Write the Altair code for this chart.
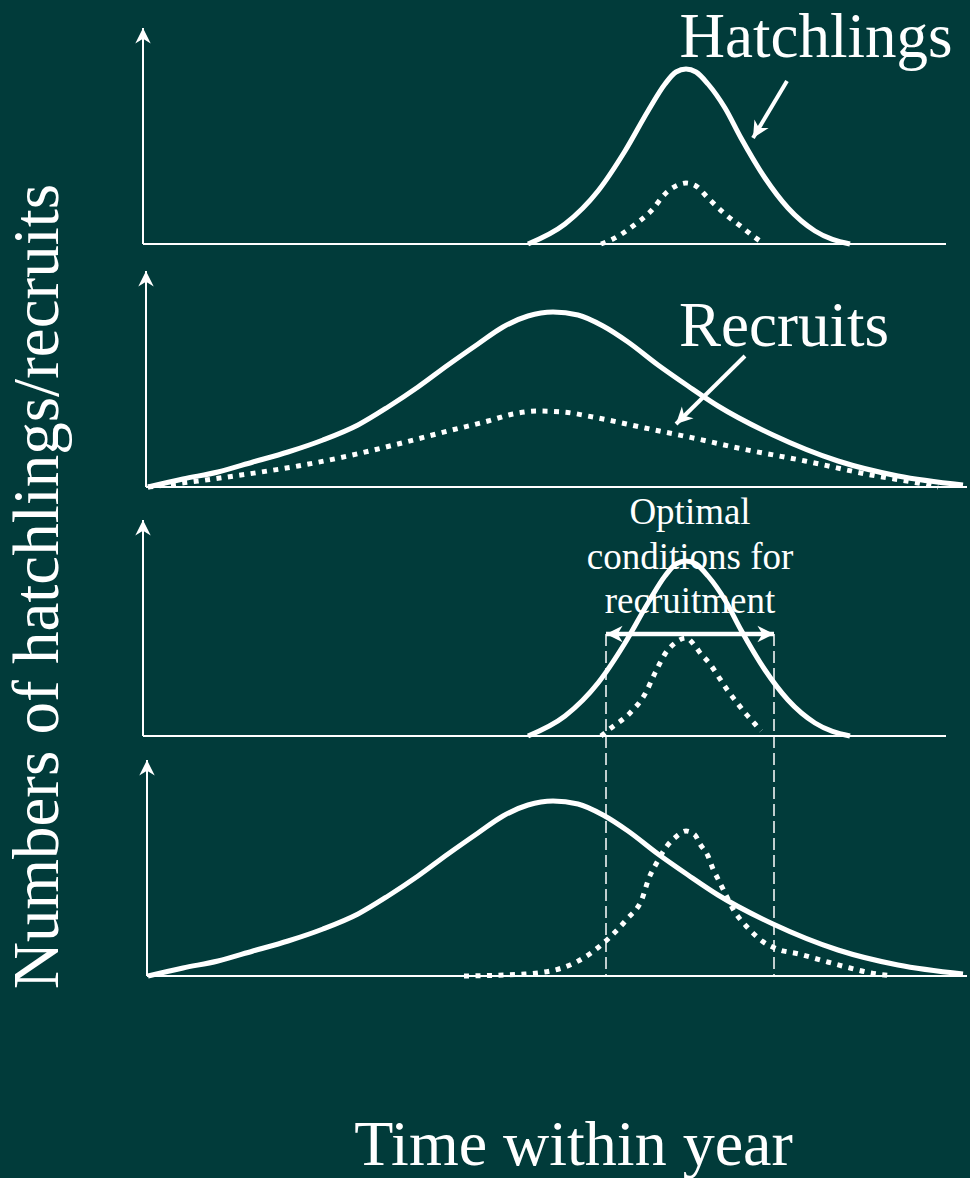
import altair as alt
import pandas as pd

BG = "#013b3a"
FG = "#ffffff"
SERIF = "Liberation Serif"

T_MAX = 826        # full span of the time axis (arbitrary units within the year)
AXIS_TOP = 216     # height reached by the arrowed vertical axes

# Narrow hatching season (panels 1 and 3): time, numbers
narrow_t = [385, 422, 455, 482, 505, 522, 533, 543, 553, 565, 582, 598, 622, 645, 672, 707]
narrow_n = [0, 20, 53, 93, 133, 160, 172, 175, 172, 160, 136, 106, 66, 36, 13, 0]

# Extended hatching season (panels 2 and 4)
broad_t = [5, 40, 75, 110, 145, 180, 215, 245, 275, 305, 335, 360, 385, 410, 435,
           460, 485, 515, 545, 575, 630, 695, 755, 820]
broad_n = [0, 8, 15, 25, 35, 47, 62, 80, 100, 122, 143, 160, 171, 175, 172,
           161, 145, 122, 101, 81, 52, 26, 11, 2]

# Recruits in each scenario
rec1_t = [458, 470, 490, 508, 523, 533, 543, 553, 565, 582, 600, 610, 620]
rec1_n = [0, 5, 18, 33, 51, 58, 61, 58, 46, 30, 16, 8, 1]

rec2_t = [5, 55, 105, 155, 205, 255, 305, 345, 370, 395, 420, 450, 502, 555, 595, 662, 728, 775, 795]
rec2_n = [0, 6, 13, 21, 31, 43, 56, 66, 73, 76, 75, 70, 59, 48, 39, 26, 12, 4, 0]

rec3_t = [458, 468, 487, 502, 512, 522, 532, 543, 552, 558, 567, 575, 585, 595, 603, 612, 618]
rec3_n = [0, 8, 23, 42, 63, 82, 93, 98, 90, 82, 72, 60, 45, 32, 22, 12, 5]

rec4_t = [321, 382, 419, 448, 466, 484, 499, 506, 512, 524, 534, 543, 552, 557, 565,
          570, 575, 581, 590, 605, 619, 634, 656, 681, 707, 728, 750]
rec4_n = [0, 2, 8, 23, 38, 57, 77, 98, 110, 130, 140, 145, 141, 132, 120,
          107, 97, 85, 67, 48, 35, 27, 22, 15, 8, 3, 0]

# Annotation anchors (time, numbers) in their panel's units
hatch_label = (673, 187)
hatch_arrow = (644, 163, 610, 106, 211)
recruit_label = (641, 141)
recruit_arrow = (602, 131, 533, 63, 225)
window_t = [463, 631]     # optimal conditions for recruitment
window_n = 102
window_floor = -240       # dashed limits run down to the last panel's baseline

HEIGHTS = [243, 243, 249, 240]
AXIS_X = [0, 3, 0, 4]
AXIS_END = [803, 824, 803, 824]

STEALTH = "M0,0 L0.5,1 L0,0.7 L-0.5,1 Z"


def heads(X, Y, df, size):
    return alt.Chart(df).mark_point(
        shape=STEALTH, filled=True, size=size, color=FG, opacity=1, strokeWidth=0
    ).encode(x=X, y=Y, angle=alt.Angle("ang:Q", scale=None))


def label(X, Y, t, n, text, size, **kw):
    df = pd.DataFrame({"t": [t], "n": [n], "label": [text]})
    return alt.Chart(df).mark_text(
        font=SERIF, fontSize=size, color=FG, align="center", baseline="alphabetic", **kw
    ).encode(x=X, y=Y, text="label:N")


def pointer(X, Y, spec, width=4, size=1100):
    t0, n0, t1, n1, ang = spec
    shaft = alt.Chart(pd.DataFrame({"t": [t0], "n": [n0], "t2": [t1], "n2": [n1]})).mark_rule(
        color=FG, strokeWidth=width
    ).encode(x=X, x2="t2:Q", y=Y, y2="n2:Q")
    head = heads(X, Y, pd.DataFrame({"t": [t1], "n": [n1], "ang": [ang]}), size)
    return [shaft, head]


def panel(i, solid, dotted, extras=None, x_axis=None, y_axis=None):
    h = HEIGHTS[i]
    X = alt.X("t:Q", scale=alt.Scale(domain=[0, T_MAX], nice=False, zero=False), axis=x_axis)
    Y = alt.Y("n:Q", scale=alt.Scale(domain=[0, h], nice=False, zero=False), axis=y_axis)
    axes = pd.DataFrame({
        "t": [AXIS_X[i], AXIS_X[i]],
        "t2": [AXIS_X[i], AXIS_END[i]],
        "n": [0, 0],
        "n2": [AXIS_TOP, 0],
    })
    below, above = extras(X, Y) if extras else ([], [])
    layers = [
        alt.Chart(axes).mark_rule(color=FG, strokeWidth=2).encode(x=X, x2="t2:Q", y=Y, y2="n2:Q"),
        heads(X, Y, pd.DataFrame({"t": [AXIS_X[i]], "n": [AXIS_TOP], "ang": [0]}), 961),
        *below,
        alt.Chart(pd.DataFrame({"t": solid[0], "n": solid[1]})).mark_line(
            color=FG, strokeWidth=5, interpolate="monotone", strokeJoin="round"
        ).encode(x=X, y=Y),
        alt.Chart(pd.DataFrame({"t": dotted[0], "n": dotted[1]})).mark_line(
            color=FG, strokeWidth=5, strokeDash=[5, 6.5], interpolate="monotone", strokeJoin="round"
        ).encode(x=X, y=Y),
        *above,
    ]
    return alt.layer(*layers).properties(width=T_MAX, height=h)


def extras_1(X, Y):
    return [], [label(X, Y, *hatch_label, "Hatchlings", 63), *pointer(X, Y, hatch_arrow)]


def extras_2(X, Y):
    return [], [label(X, Y, *recruit_label, "Recruits", 63), *pointer(X, Y, recruit_arrow)]


def extras_3(X, Y):
    limits = pd.DataFrame({"t": window_t, "n": [window_n] * 2, "n2": [window_floor] * 2})
    dashed = alt.Chart(limits).mark_rule(color=FG, strokeWidth=1.5, strokeDash=[12, 5]).encode(
        x=X, y=Y, y2="n2:Q"
    )
    span = alt.Chart(pd.DataFrame({"t": [window_t[0]], "t2": [window_t[1]], "n": [window_n]})).mark_rule(
        color=FG, strokeWidth=4.5
    ).encode(x=X, x2="t2:Q", y=Y)
    ends = heads(X, Y, pd.DataFrame({"t": window_t, "n": [window_n] * 2, "ang": [270, 90]}), 1100)
    text = label(X, Y, (window_t[0] + window_t[1]) / 2, 212,
                 "Optimal\nconditions for\nrecruitment", 37, lineBreak="\n", lineHeight=44.5)
    return [dashed], [span, ends, text]


title_style = dict(
    domain=False, ticks=False, labels=False, grid=False,
    titleFont=SERIF, titleFontWeight="normal", titleColor=FG,
    titleBaseline="alphabetic", titleAlign="center", titleLimit=1200,
)

y_title = alt.Axis(title="Numbers of hatchlings/recruits", titleFontSize=65,
                   titleAngle=270, titleX=-86, titleY=99, **title_style)
x_title = alt.Axis(title="Time within year", titleFontSize=64,
                   titleX=430, titleY=188, **title_style)

p1 = panel(0, (narrow_t, narrow_n), (rec1_t, rec1_n), extras_1)
p2 = panel(1, (broad_t, broad_n), (rec2_t, rec2_n), extras_2)
p3 = panel(2, (narrow_t, narrow_n), (rec3_t, rec3_n), extras_3, y_axis=y_title)
p4 = panel(3, (broad_t, broad_n), (rec4_t, rec4_n), x_axis=x_title)

chart = alt.vconcat(p1, p2, p3, p4, spacing=0, bounds="flush").properties(
    background=BG,
    padding={"left": 4, "top": 0, "right": 0, "bottom": 2},
).configure_view(stroke="transparent")

chart.save("out.html", embed_options={"renderer": "svg", "actions": False})
